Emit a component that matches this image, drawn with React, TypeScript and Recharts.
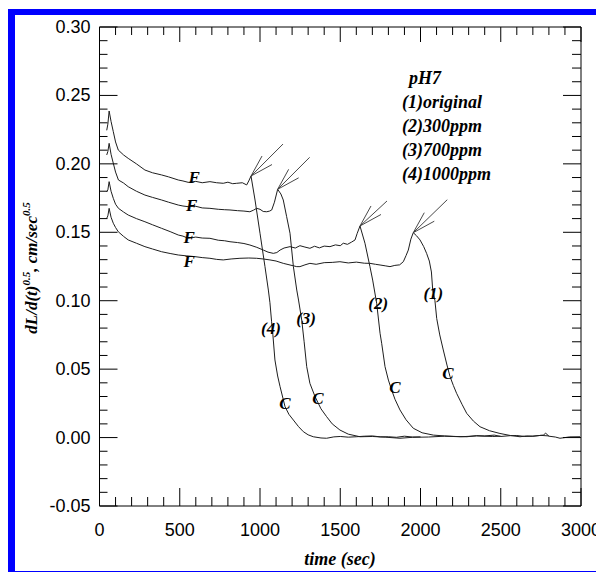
import React from 'react';
import { LineChart, Line, XAxis, YAxis, ReferenceDot } from 'recharts';

const CHART_W = 585;
const CHART_H = 556;
const MARGIN = { top: 11, right: 18, bottom: 64, left: 83.5 };

const xTicks = [0, 100, 200, 300, 400, 500, 600, 700, 800, 900, 1000, 1100, 1200, 1300, 1400, 1500, 1600, 1700, 1800, 1900, 2000, 2100, 2200, 2300, 2400, 2500, 2600, 2700, 2800, 2900, 3000];
const xMajorTicks = [0, 500, 1000, 1500, 2000, 2500, 3000];
const yTicks = [-0.05, -0.04, -0.03, -0.02, -0.01, 0, 0.01, 0.02, 0.03, 0.04, 0.05, 0.06, 0.07, 0.08, 0.09, 0.1, 0.11, 0.12, 0.13, 0.14, 0.15, 0.16, 0.17, 0.18, 0.19, 0.2, 0.21, 0.22, 0.23, 0.24, 0.25, 0.26, 0.27, 0.28, 0.29, 0.3];
const yMajorTicks = [-0.05, 0, 0.05, 0.1, 0.15, 0.2, 0.25, 0.3];

const legendTitle = 'pH7';
const seriesNames = ['(1)original', '(2)300ppm', '(3)700ppm', '(4)1000ppm'];
const curveTags = ['(1)', '(2)', '(3)', '(4)'];
const xTitle = 'time (sec)';

// (1) original
const series1 = [
  [45, 0.1602], [52, 0.162], [60, 0.1675], [72, 0.161], [86, 0.1566], [100, 0.1535], [117, 0.1504], [150, 0.147], [179, 0.1444], [230, 0.142], [283, 0.1395], [330, 0.1378], [387, 0.1358], [440, 0.1345], [491, 0.1334], [540, 0.1328], [595, 0.1322], [640, 0.1315], [688, 0.131], [730, 0.1302], [771, 0.1298], [820, 0.1305], [875, 0.131], [930, 0.1312], [979, 0.131], [1020, 0.1305], [1062, 0.1298], [1100, 0.129], [1145, 0.1273], [1187, 0.1261], [1229, 0.1249], [1249, 0.1249], [1280, 0.1262], [1311, 0.1273], [1350, 0.1266], [1400, 0.1278], [1450, 0.128], [1498, 0.1285], [1550, 0.1276], [1600, 0.1282], [1650, 0.1274], [1685, 0.1273], [1720, 0.1266], [1748, 0.1261], [1780, 0.1255], [1810, 0.1249], [1840, 0.1258], [1870, 0.1262], [1893, 0.1285], [1910, 0.133], [1924, 0.137], [1940, 0.145], [1955, 0.1497], [1975, 0.1475], [1997, 0.1444], [2020, 0.1395], [2038, 0.1346], [2055, 0.129], [2068, 0.121], [2076, 0.108], [2090, 0.1], [2101, 0.087], [2120, 0.075], [2142, 0.064], [2165, 0.053], [2184, 0.0445], [2205, 0.038], [2225, 0.0323], [2260, 0.024], [2288, 0.0177], [2330, 0.012], [2371, 0.0079], [2430, 0.005], [2495, 0.003], [2560, 0.0015], [2620, 0.0006], [2660, 0.0012], [2700, 0.001], [2740, 0.0015], [2765, 0.0018], [2780, 0.0032], [2800, 0.001], [2840, 0.0004], [2869, -0.0005], [2930, 0.0005], [2994, 0.0006],
];

// (2) 300ppm
const series2 = [
  [45, 0.1797], [52, 0.181], [60, 0.187], [72, 0.18], [86, 0.1748], [100, 0.1705], [118, 0.1675], [150, 0.1648], [179, 0.1626], [230, 0.16], [283, 0.1577], [330, 0.1555], [387, 0.1529], [440, 0.1505], [491, 0.148], [520, 0.1472], [553, 0.1456], [600, 0.1465], [640, 0.1458], [688, 0.1456], [740, 0.1442], [780, 0.1438], [813, 0.1431], [860, 0.1425], [900, 0.1418], [937, 0.1407], [980, 0.139], [1021, 0.137], [1050, 0.1355], [1083, 0.1346], [1105, 0.1352], [1125, 0.137], [1150, 0.1385], [1187, 0.1395], [1220, 0.1385], [1249, 0.1402], [1280, 0.1392], [1311, 0.1383], [1340, 0.1398], [1370, 0.1386], [1400, 0.1399], [1436, 0.1395], [1470, 0.1408], [1500, 0.1402], [1519, 0.142], [1545, 0.1412], [1570, 0.1428], [1592, 0.1444], [1605, 0.149], [1623, 0.1546], [1654, 0.142], [1685, 0.1249], [1702, 0.1151], [1727, 0.0981], [1748, 0.0762], [1758, 0.0689], [1779, 0.0518], [1800, 0.042], [1820, 0.0348], [1841, 0.028], [1872, 0.0202], [1910, 0.013], [1955, 0.0068], [2010, 0.0035], [2080, 0.0018], [2150, 0.0012], [2220, 0.0008], [2288, 0.0006], [2350, 0.0014], [2400, 0.0012], [2460, 0.0018], [2500, 0.0008], [2560, 0.0014], [2600, 0.0015], [2650, 0.0008], [2700, 0.001], [2750, 0.0016], [2800, 0.0012],
];

// (3) 700ppm
const series3 = [
  [45, 0.2065], [52, 0.209], [60, 0.215], [72, 0.207], [86, 0.2004], [100, 0.194], [118, 0.1882], [150, 0.186], [179, 0.1833], [230, 0.18], [283, 0.1772], [330, 0.1755], [387, 0.1736], [430, 0.172], [491, 0.1699], [520, 0.1692], [553, 0.1687], [600, 0.169], [640, 0.1678], [688, 0.1675], [740, 0.1668], [780, 0.1665], [813, 0.1663], [860, 0.1658], [900, 0.1655], [937, 0.165], [960, 0.1662], [979, 0.1675], [1000, 0.1668], [1020, 0.1652], [1042, 0.165], [1060, 0.1655], [1073, 0.1663], [1090, 0.172], [1110, 0.1814], [1130, 0.178], [1145, 0.1736], [1166, 0.1614], [1187, 0.1493], [1208, 0.1249], [1229, 0.1078], [1240, 0.1005], [1260, 0.0859], [1275, 0.07], [1291, 0.0518], [1311, 0.0396], [1343, 0.0299], [1380, 0.021], [1415, 0.0153], [1450, 0.01], [1498, 0.0055], [1550, 0.0025], [1623, 0.0006], [1700, 0.0008], [1780, 0.0003], [1872, -0.0005], [1950, 0.0002], [2050, 0.0004], [2150, 0.001], [2250, 0.0006], [2350, 0.0012], [2450, 0.0008], [2500, 0.001],
];

// (4) 1000ppm
const series4 = [
  [45, 0.2245], [52, 0.229], [60, 0.2386], [72, 0.231], [86, 0.2235], [100, 0.216], [117, 0.2101], [150, 0.2065], [179, 0.204], [230, 0.2], [283, 0.1955], [330, 0.1935], [387, 0.1919], [430, 0.1905], [491, 0.1882], [520, 0.1875], [553, 0.1865], [600, 0.1872], [640, 0.1862], [688, 0.187], [730, 0.1862], [771, 0.1858], [800, 0.1866], [830, 0.1855], [855, 0.1858], [890, 0.1862], [917, 0.1846], [930, 0.1875], [944, 0.1911], [969, 0.1736], [1000, 0.1493], [1031, 0.1249], [1052, 0.1078], [1062, 0.0985], [1072, 0.085], [1080, 0.0755], [1093, 0.0567], [1110, 0.045], [1125, 0.0372], [1156, 0.0226], [1180, 0.017], [1208, 0.0128], [1240, 0.008], [1270, 0.0043], [1300, 0.002], [1332, 0.0006], [1380, -0.0003], [1415, -0.0005], [1460, 0.0005], [1500, 0.0008], [1550, 0.0003], [1600, 0.0006], [1650, 0.001], [1700, 0.0012], [1750, 0.0005], [1800, 0.0006], [1850, 0.0002], [1900, 0.001], [1950, 0.0004], [2000, 0.0005],
];

const fLabelPoints = [[590, 0.1906], [574, 0.17], [559, 0.1468], [559, 0.129]];
const tagPoints = [[2080, 0.1054], [1737, 0.0981], [1287, 0.0871], [1068, 0.0798]];
const cLabelPoints = [[2171, 0.0472], [1841, 0.0369], [1361, 0.0289], [1156, 0.0253]];
const arrowTips = [[1955, 0.1497], [1623, 0.1546], [1110, 0.1814], [944, 0.1911]];
const arrowShafts = [[34, -33], [27, -25], [32, -32], [32, -32]];

const toData = (pts: number[][]) => pts.map(([t, y]) => ({ t, y }));
const allSeries = [series1, series2, series3, series4].map(toData);

const SERIF = '"Liberation Serif", "Times New Roman", serif';
const SANS = '"Liberation Sans", Arial, sans-serif';
const LINE = '#1e1e1e';

const isMajor = (list: number[], v: number) => list.some((m) => Math.abs(m - v) < 1e-6);

const LeftTick = (props: any) => {
  const { x, y, payload } = props;
  const major = isMajor(yMajorTicks, payload.value);
  return (
    <g>
      <line x1={x} x2={x + (major ? 18 : 8)} y1={y} y2={y} stroke="#000" strokeWidth={1} />
      {major && (
        <text x={x - 9} y={y} dy={6} textAnchor="end" fontFamily={SANS} fontSize={18} fill="#000">
          {payload.value.toFixed(2)}
        </text>
      )}
    </g>
  );
};

const RightTick = (props: any) => {
  const { x, y, payload } = props;
  const major = isMajor(yMajorTicks, payload.value);
  return <line x1={x} x2={x - (major ? 18 : 9)} y1={y} y2={y} stroke="#000" strokeWidth={1} />;
};

const BottomTick = (props: any) => {
  const { x, y, payload } = props;
  const major = isMajor(xMajorTicks, payload.value);
  return (
    <g>
      <line x1={x} x2={x} y1={y} y2={y - (major ? 18 : 9)} stroke="#000" strokeWidth={1} />
      {major && (
        <text x={x} y={y + 30} textAnchor="middle" fontFamily={SANS} fontSize={18} fill="#000">
          {String(payload.value)}
        </text>
      )}
    </g>
  );
};

const TopTick = (props: any) => {
  const { x, y, payload } = props;
  const major = isMajor(xMajorTicks, payload.value);
  return <line x1={x} x2={x} y1={y} y2={y + (major ? 15 : 8)} stroke="#000" strokeWidth={1} />;
};

const textShape = (label: string, size: number) => (p: any) => (
  <text
    x={p.cx}
    y={p.cy}
    dy="0.35em"
    textAnchor="middle"
    fontFamily={SERIF}
    fontStyle="italic"
    fontWeight="bold"
    fontSize={size}
    fill="#000"
  >
    {label}
  </text>
);

const arrowShape = (shaft: number[]) => (p: any) => {
  const { cx, cy } = p;
  return (
    <g stroke="#333" strokeWidth={0.9} fill="none">
      <line x1={cx} y1={cy} x2={cx + shaft[0]} y2={cy + shaft[1]} />
      <line x1={cx} y1={cy} x2={cx + 11} y2={cy - 20} />
      <line x1={cx} y1={cy} x2={cx + 21} y2={cy - 11.5} />
    </g>
  );
};

export default function App() {
  const legendX = 387;
  const legendBase = [69, 93, 117, 141, 165];
  return (
    <div
      style={{
        position: 'relative',
        top: 1,
        width: CHART_W,
        height: CHART_H,
        borderLeft: '7px solid #0000ff',
        borderTop: '6px solid #0000ff',
        borderRight: '3px solid #0000ff',
        borderBottom: '2px solid #0000ff',
        background: '#fff',
      }}
    >
      <style>{'svg.recharts-surface{overflow:visible}'}</style>
      <LineChart width={CHART_W} height={CHART_H} margin={MARGIN}>
        <XAxis
          type="number"
          dataKey="t"
          domain={[0, 3000]}
          ticks={xTicks}
          interval={0}
          height={1}
          tickSize={0}
          tickMargin={0}
          tickLine={false}
          axisLine={{ stroke: '#000' }}
          tick={BottomTick}
        />
        <XAxis
          xAxisId="top"
          orientation="top"
          type="number"
          dataKey="t"
          domain={[0, 3000]}
          ticks={xTicks}
          interval={0}
          height={1}
          tickSize={0}
          tickMargin={0}
          tickLine={false}
          axisLine={{ stroke: '#000' }}
          tick={TopTick}
        />
        <YAxis
          type="number"
          domain={[-0.05, 0.3]}
          ticks={yTicks}
          interval={0}
          width={1}
          tickSize={0}
          tickMargin={0}
          tickLine={false}
          axisLine={{ stroke: '#000' }}
          tick={LeftTick}
        />
        <YAxis
          yAxisId="right"
          orientation="right"
          type="number"
          domain={[-0.05, 0.3]}
          ticks={yTicks}
          interval={0}
          width={1}
          tickSize={0}
          tickMargin={0}
          tickLine={false}
          axisLine={{ stroke: '#000' }}
          tick={RightTick}
        />
        {allSeries.map((d, i) => (
          <Line
            key={seriesNames[i]}
            data={d}
            dataKey="y"
            name={seriesNames[i]}
            type="linear"
            stroke={LINE}
            strokeWidth={1}
            dot={false}
            isAnimationActive={false}
          />
        ))}
        <Line xAxisId="top" yAxisId="right" data={allSeries[0]} dataKey="y" stroke="none" dot={false} isAnimationActive={false} legendType="none" />
        {arrowTips.map((p, i) => (
          <ReferenceDot key={'a' + i} x={p[0]} y={p[1]} r={0} ifOverflow="visible" shape={arrowShape(arrowShafts[i])} />
        ))}
        {fLabelPoints.map((p, i) => (
          <ReferenceDot key={'f' + i} x={p[0]} y={p[1]} r={0} ifOverflow="visible" shape={textShape('F', 17)} />
        ))}
        {tagPoints.map((p, i) => (
          <ReferenceDot key={'t' + i} x={p[0]} y={p[1]} r={0} ifOverflow="visible" shape={textShape(curveTags[i], 17)} />
        ))}
        {cLabelPoints.map((p, i) => (
          <ReferenceDot key={'c' + i} x={p[0]} y={p[1]} r={0} ifOverflow="visible" shape={textShape('C', 17)} />
        ))}
      </LineChart>
      <svg
        width={CHART_W}
        height={CHART_H}
        style={{ position: 'absolute', left: 0, top: 0, pointerEvents: 'none' }}
      >
        <g fontFamily={SERIF} fontStyle="italic" fontWeight="bold" fill="#000">
          <text x={legendX + 7} y={legendBase[0]} fontSize={18}>{legendTitle}</text>
          {seriesNames.map((n, i) => (
            <text key={n} x={legendX} y={legendBase[i + 1]} fontSize={18}>{n}</text>
          ))}
          <text x={325} y={550} textAnchor="middle" fontSize={18}>{xTitle}</text>
          <text transform="translate(22,253) rotate(-90)" textAnchor="middle" fontSize={17}>
            dL/d(t)<tspan dy={-7} fontSize={11}>0.5</tspan>
            <tspan dy={7}>, cm/sec</tspan>
            <tspan dy={-7} fontSize={11}>0.5</tspan>
          </text>
        </g>
      </svg>
    </div>
  );
}
